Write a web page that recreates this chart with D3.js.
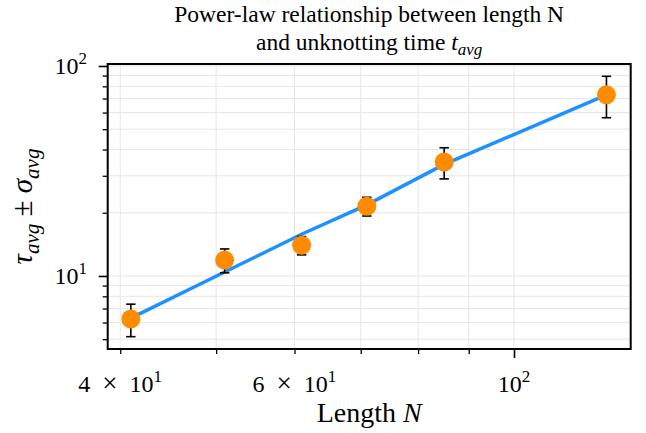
<!DOCTYPE html>
<html><head><meta charset="utf-8">
<script src="https://cdn.jsdelivr.net/npm/d3@7"></script>
<style>
body{margin:0;background:#fff}
svg{display:block}
text{font-family:"Liberation Serif","Times New Roman",serif;fill:#000}
</style>
</head><body><svg id="c" width="646" height="433"></svg>
<script>
// ---- data ----
const lengthN  = [41, 51, 61, 71, 85, 124];
const tauAvg   = [6.24, 11.9, 14.0, 21.5, 34.9, 73.0];
const sigmaAvg = [1.1, 1.55, 1.4, 2.2, 5.9, 16.3];
const fitTau   = [6.3, 10.45, 15.8, 21.8, 34.0, 72.8];
const xTickVals   = [40, 60, 100];
const xTickMant   = ["4", "6", ""];
const xTickExp    = ["1", "1", "2"];
const xMinorVals  = [40, 50, 60, 70, 80, 90];
const xMajorVals  = [100];
const yTickVals   = [10, 100];
const yTickExp    = ["1", "2"];
const yMinorVals  = [5, 6, 7, 8, 9, 20, 30, 40, 50, 60, 70, 80, 90];
const titleLines  = ["Power-law relationship between length N", "and unknotting time "];

// ---- layout ----
const L = 107.7, R = 630.7, T = 64, B = 349;
const svg = d3.select("#c");
const x = d3.scaleLog().domain([38.85, 131.2]).range([L, R]);
const y = d3.scaleLog().domain([4.49, 102.2]).range([B, T]);

// grid
const g = svg.append("g");
g.selectAll("line.gx").data(xMinorVals.concat(xMajorVals)).join("line")
  .attr("x1", d => x(d)).attr("x2", d => x(d)).attr("y1", T).attr("y2", B)
  .attr("stroke", "#e6e6e6").attr("stroke-width", 1);
g.selectAll("line.gy").data(yMinorVals.concat(yTickVals)).join("line")
  .attr("x1", L).attr("x2", R).attr("y1", d => y(d)).attr("y2", d => y(d))
  .attr("stroke", "#e6e6e6").attr("stroke-width", 1);

// axes ticks
function styleAxis(sel, w) {
  sel.select(".domain").remove();
  sel.selectAll(".tick line").attr("stroke", "#000").attr("stroke-width", w);
  sel.selectAll(".tick text").remove();
}
svg.append("g").attr("transform", `translate(0,${B})`)
  .call(d3.axisBottom(x).tickValues(xMinorVals).tickSize(5).tickFormat(""))
  .call(s => styleAxis(s, 1.3));
svg.append("g").attr("transform", `translate(0,${B})`)
  .call(d3.axisBottom(x).tickValues(xMajorVals).tickSize(9).tickFormat(""))
  .call(s => styleAxis(s, 1.6));
svg.append("g").attr("transform", `translate(${L},0)`)
  .call(d3.axisLeft(y).tickValues(yMinorVals).tickSize(5).tickFormat(""))
  .call(s => styleAxis(s, 1.3));
svg.append("g").attr("transform", `translate(${L},0)`)
  .call(d3.axisLeft(y).tickValues(yTickVals).tickSize(9).tickFormat(""))
  .call(s => styleAxis(s, 1.6));

// tick labels
xTickVals.forEach((v, i) => {
  const t = svg.append("text").attr("x", x(v)).attr("y", 392)
    .attr("text-anchor", "middle").style("font-size", "24px").style("white-space", "pre");
  if (xTickMant[i]) {
    t.append("tspan").text(xTickMant[i] + "\u2002");
    t.append("tspan").style("font-size", "27px").text("\u00d7");
    t.append("tspan").text("\u200210");
  } else {
    t.append("tspan").text("10");
  }
  t.append("tspan").attr("dy", -10).style("font-size", "17px").text(xTickExp[i]);
});
yTickVals.forEach((v, i) => {
  const t = svg.append("text").attr("x", 87).attr("y", y(v) + 8.5)
    .attr("text-anchor", "end").style("font-size", "24px");
  t.append("tspan").text("10");
  t.append("tspan").attr("dy", -10).style("font-size", "17px").text(yTickExp[i]);
});

// fit line
const line = d3.line().x((d, i) => x(lengthN[i])).y(d => y(d));
svg.append("path").datum(fitTau).attr("d", line)
  .attr("fill", "none").attr("stroke", "#1e90ff").attr("stroke-width", 3.5);

// error bars
const eb = svg.append("g").attr("stroke", "#000").attr("stroke-width", 1.6);
lengthN.forEach((n, i) => {
  const cx = x(n), y0 = y(tauAvg[i] - sigmaAvg[i]), y1 = y(tauAvg[i] + sigmaAvg[i]);
  eb.append("line").attr("x1", cx).attr("x2", cx).attr("y1", y0).attr("y2", y1);
  eb.append("line").attr("x1", cx - 4.7).attr("x2", cx + 4.7).attr("y1", y0).attr("y2", y0);
  eb.append("line").attr("x1", cx - 4.7).attr("x2", cx + 4.7).attr("y1", y1).attr("y2", y1);
});

// markers
svg.append("g").selectAll("circle").data(tauAvg).join("circle")
  .attr("cx", (d, i) => x(lengthN[i])).attr("cy", d => y(d)).attr("r", 9.5)
  .attr("fill", "#ff8c00");

// frame
svg.append("rect").attr("x", L).attr("y", T).attr("width", R - L).attr("height", B - T)
  .attr("fill", "none").attr("stroke", "#000").attr("stroke-width", 2);

// title
const cxT = (L + R) / 2;
svg.append("text").attr("x", cxT).attr("y", 22).attr("text-anchor", "middle")
  .style("font-size", "23.5px").text(titleLines[0]);
const t2 = svg.append("text").attr("x", cxT).attr("y", 50).attr("text-anchor", "middle")
  .style("font-size", "23.5px");
t2.append("tspan").text(titleLines[1]);
t2.append("tspan").style("font-style", "italic").text("t");
t2.append("tspan").attr("dy", 5).style("font-style", "italic").style("font-size", "17px").text("avg");

// x label
const xl = svg.append("text").attr("x", cxT).attr("y", 422).attr("text-anchor", "middle")
  .style("font-size", "28px");
xl.append("tspan").text("Length ");
xl.append("tspan").style("font-style", "italic").text("N");

// y label
const yl = svg.append("text").attr("transform", `translate(32,${(T + B) / 2}) rotate(-90)`)
  .attr("text-anchor", "middle").style("font-size", "29px");
yl.append("tspan").style("font-style", "italic").text("τ");
yl.append("tspan").attr("dy", 7).style("font-style", "italic").style("font-size", "21px").text("avg");
yl.append("tspan").attr("dy", -7).text(" ± ");
yl.append("tspan").style("font-style", "italic").text("σ");
yl.append("tspan").attr("dy", 7).style("font-style", "italic").style("font-size", "21px").text("avg");
</script>
</body></html>
